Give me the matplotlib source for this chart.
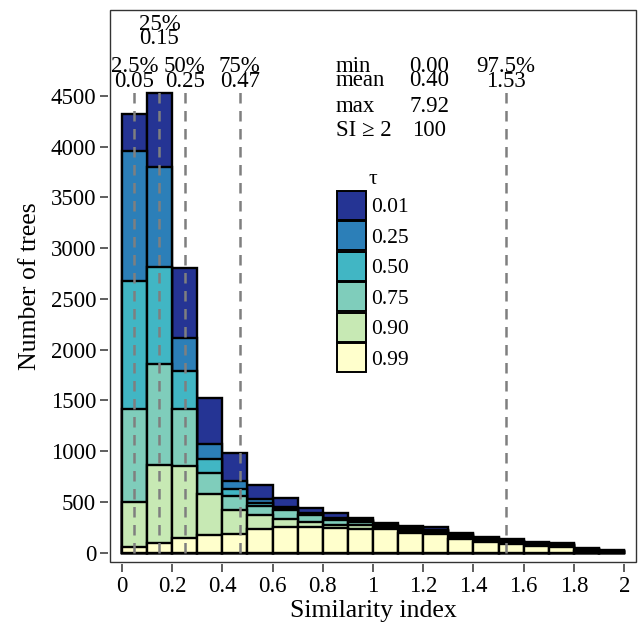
import matplotlib
matplotlib.use("Agg")
import matplotlib.pyplot as plt
from matplotlib.patches import Patch, Rectangle

plt.rcParams["font.family"] = ["Liberation Serif", "DejaVu Serif"]

# ── Data ──────────────────────────────────────────────────────
bin_starts = [0.0, 0.1, 0.2, 0.3, 0.4, 0.5, 0.6, 0.7, 0.8, 0.9,
              1.0, 1.1, 1.2, 1.3, 1.4, 1.5, 1.6, 1.7, 1.8, 1.9]
bin_width = 0.1

# number of trees per bin, one overlaid histogram per tau
tau_labels = ["0.01", "0.25", "0.50", "0.75", "0.90", "0.99"]
n_tau_001 = [4320, 4530, 2802, 1521, 982, 667, 542, 444, 388, 337,
             296, 263, 250, 197, 158, 132, 108, 99, 43, 27]
n_tau_025 = [3960, 3803, 2112, 1071, 703, 526, 453, 394, 345, 320,
             270, 240, 228, 180, 143, 118, 95, 86, 35, 20]
n_tau_050 = [2680, 2818, 1793, 923, 630, 493, 444, 385, 335, 312,
             262, 232, 220, 172, 136, 112, 90, 80, 32, 17]
n_tau_075 = [1416, 1856, 1413, 788, 562, 460, 421, 372, 320, 300,
             254, 222, 210, 163, 128, 105, 84, 74, 28, 14]
n_tau_090 = [500, 864, 857, 575, 424, 371, 329, 306, 275, 270,
             245, 212, 198, 150, 119, 97, 76, 68, 24, 10]
n_tau_099 = [53, 92, 142, 174, 180, 233, 250, 250, 245, 235,
             230, 197, 181, 135, 108, 86, 66, 59, 18, 4]
tau_colors = ["#253494", "#2c7fb8", "#41b6c4", "#7fcdbb", "#c7e9b4", "#ffffcc"]

# quantiles of the similarity index
q_levels = ["2.5%", "25%", "50%", "75%", "97.5%"]
q_values = [0.05, 0.15, 0.25, 0.47, 1.53]
q_line_top = 4580

stat_names = ["min", "mean", "max", "SI \u2265 2"]
stat_values = ["0.00", "0.40", "7.92", "100"]

x_ticks = [0, 0.2, 0.4, 0.6, 0.8, 1, 1.2, 1.4, 1.6, 1.8, 2]
x_ticklabels = ["0", "0.2", "0.4", "0.6", "0.8", "1", "1.2", "1.4", "1.6", "1.8", "2"]
y_ticks = [0, 500, 1000, 1500, 2000, 2500, 3000, 3500, 4000, 4500]

# ── Figure ────────────────────────────────────────────────────
W, H = 638, 634
fig = plt.figure(figsize=(W / 100, H / 100), dpi=100)
ax = fig.add_axes([110 / W, (H - 562) / H, 526 / W, 552 / H])

centers = [b + bin_width / 2 for b in bin_starts]
series = [n_tau_001, n_tau_025, n_tau_050, n_tau_075, n_tau_090, n_tau_099]
handles = []
for counts, color, lab in zip(series, tau_colors, tau_labels):
    ax.bar(centers, counts, width=bin_width, color=color,
           edgecolor="black", linewidth=1.7, zorder=2)
    handles.append(Patch(facecolor=color, edgecolor="black", linewidth=1.4, label=lab))

# quantile markers
ax.vlines(q_values, 0, q_line_top, colors="#7f7f7f", linewidth=1.8,
          linestyles=(0, (4.2, 3.0)), zorder=3)
fs = 16.5
for lev, val in zip(q_levels, q_values):
    if lev == "25%":
        y_top, y_bot = 5200, 5067
    else:
        y_top, y_bot = 4786, 4643
    ax.text(val, y_top, lev, ha="center", va="center", fontsize=fs)
    ax.text(val, y_bot, f"{val:.2f}", ha="center", va="center", fontsize=fs)

# summary statistics
for name, val, y in zip(stat_names, stat_values, [4794, 4650, 4400, 4164]):
    ax.text(0.853, y, name, ha="left", va="center", fontsize=fs)
    ax.text(1.223, y, val, ha="center", va="center", fontsize=fs)

ax.set_xlim(-0.047, 2.047)
ax.set_ylim(-92, 5347)
ax.set_xticks(x_ticks)
ax.set_xticklabels(x_ticklabels)
ax.set_yticks(y_ticks)
ax.tick_params(labelsize=fs, length=5.5, width=1.1, color="#333333",
               labelcolor="black", pad=3)

# panel border, ticks sit slightly outside it
for s in ax.spines.values():
    s.set_position(("outward", 1.5))
    s.set_visible(False)
ax.add_patch(Rectangle((0, 0), 1, 1, transform=ax.transAxes, fill=False,
                       edgecolor="#333333", linewidth=1.0, zorder=5, clip_on=False))

ax.set_xlabel("Similarity index", fontsize=18.5, labelpad=2)
ax.set_ylabel("Number of trees", fontsize=18.5, labelpad=7)

leg = ax.legend(handles=handles, title="\u03c4", loc="upper left",
                bbox_to_anchor=(0.4316, 0.71), frameon=False,
                fontsize=15.5, title_fontsize=15.5, borderpad=0,
                handlelength=1.35, handleheight=1.70, labelspacing=0.07,
                handletextpad=0.22, borderaxespad=0)

fig.savefig("out.png", dpi=100)
